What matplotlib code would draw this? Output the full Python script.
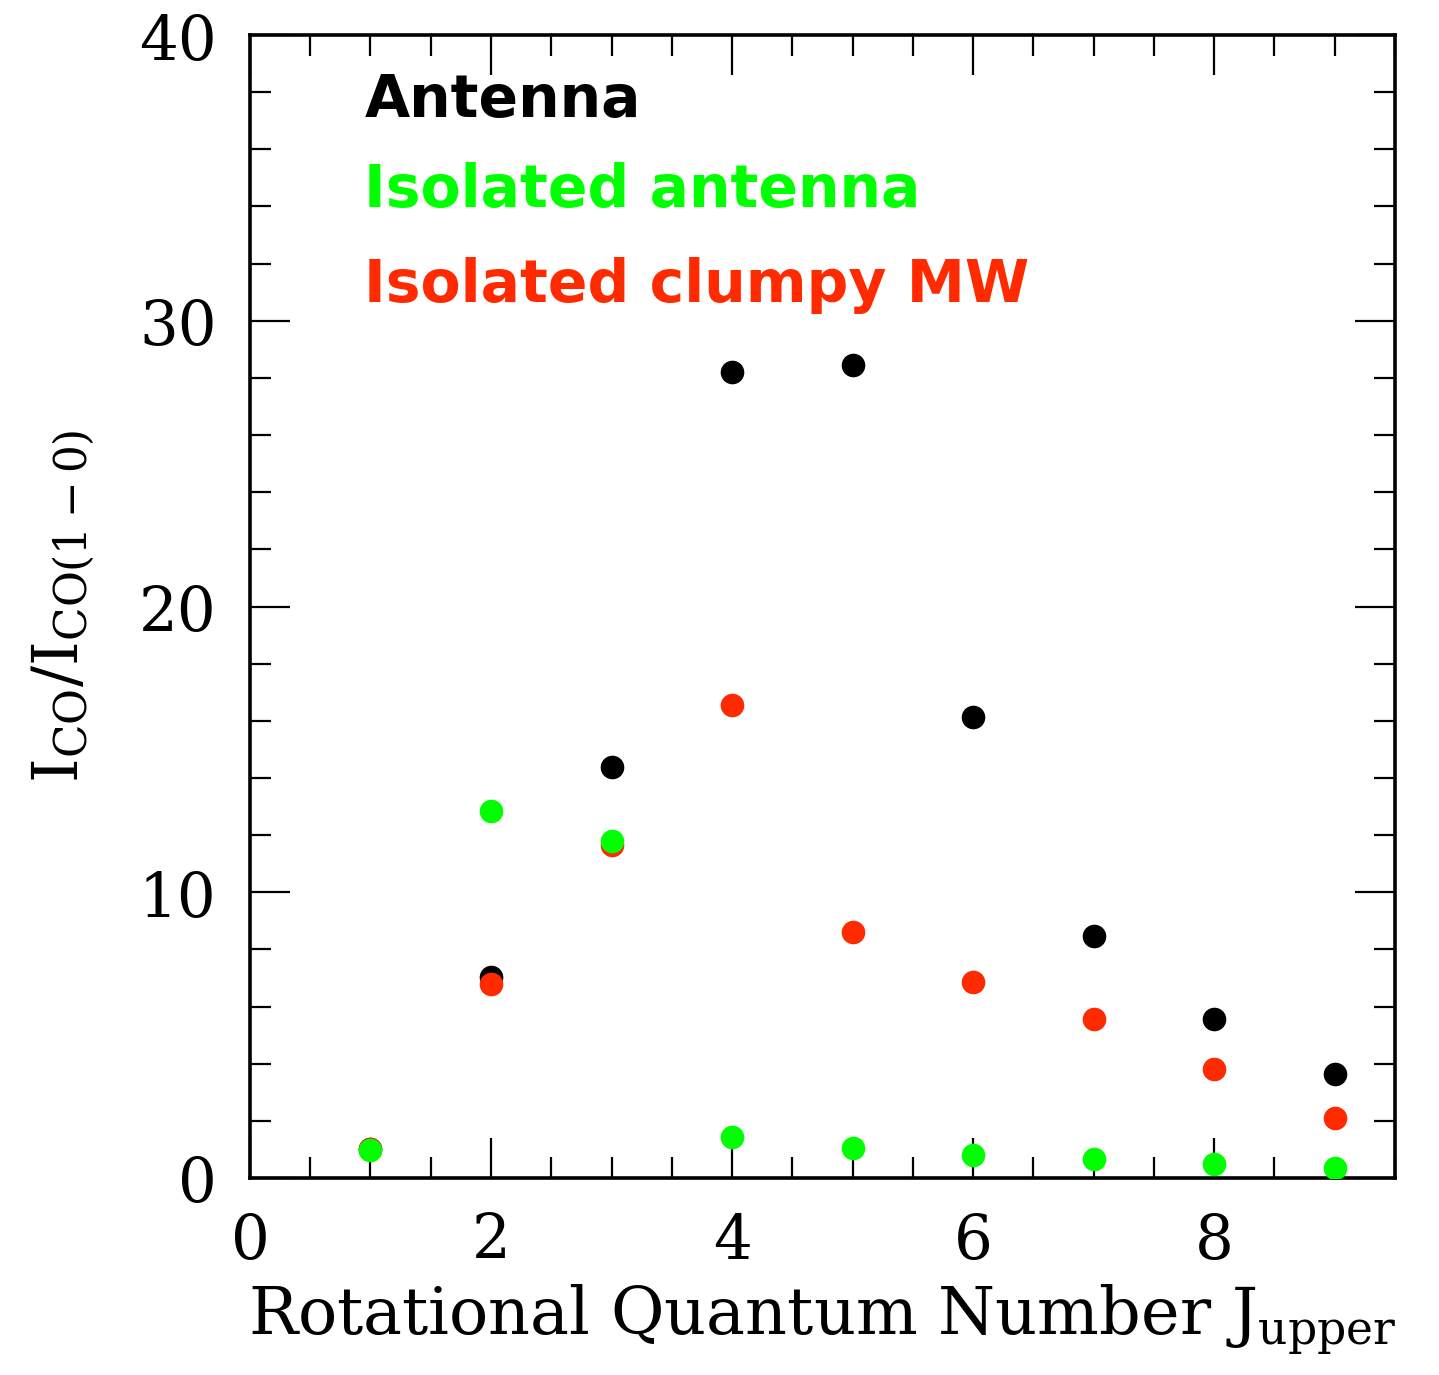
import numpy as np
import matplotlib
matplotlib.use("Agg")
import matplotlib.pyplot as plt
from matplotlib.ticker import MultipleLocator

# Rotational quantum number J_upper
j_upper = [1, 2, 3, 4, 5, 6, 7, 8, 9]

# line ratios I_CO / I_CO(1-0)
antenna = [1.0, 7.03, 14.38, 28.2, 28.45, 16.13, 8.47, 5.56, 3.64]
clumpy_mw = [1.0, 6.79, 11.65, 16.55, 8.61, 6.86, 5.56, 3.81, 2.1]
isolated_antenna = [0.98, 12.84, 11.79, 1.43, 1.05, 0.8, 0.66, 0.49, 0.35]

labels = ["Antenna", "Isolated antenna", "Isolated clumpy MW"]
colors = ["black", "#00ff00", "#ff2a00"]

plt.rcParams['font.family'] = ['DejaVu Serif']
plt.rcParams['mathtext.fontset'] = 'dejavuserif'

fig = plt.figure(figsize=(14.39, 13.75), dpi=100)
ax = fig.add_axes([0.1737, 0.1433, 0.7957, 0.8312])

# draw order: black, red, green (green ends up on top)
ax.plot(j_upper, antenna, 'o', color=colors[0], ms=17, mec='none', zorder=3)
ax.plot(j_upper, clumpy_mw, 'o', color=colors[2], ms=17, mec='none', zorder=4)
ax.plot(j_upper, isolated_antenna, 'o', color=colors[1], ms=17, mec='none', zorder=5)

ax.set_xlim(0, 9.5)
ax.set_ylim(0, 40)
ax.xaxis.set_major_locator(MultipleLocator(2))
ax.xaxis.set_minor_locator(MultipleLocator(0.5))
ax.yaxis.set_major_locator(MultipleLocator(10))
ax.yaxis.set_minor_locator(MultipleLocator(2))

ax.tick_params(which='both', direction='in', top=True, right=True, width=1.6)
ax.tick_params(which='major', length=29, labelsize=44, pad=24)
ax.tick_params(which='minor', length=15)
for sp in ax.spines.values():
    sp.set_linewidth(2.6)

ax.set_xlabel(r"Rotational Quantum Number J$_{\rm upper}$", fontsize=47, labelpad=8)
ax.set_ylabel(r"$\rm I_{CO}/I_{CO(1-0)}$", fontsize=45, labelpad=30)

# coloured legend text
ys = [0.943, 0.864, 0.781]
for lab, c, y in zip(labels, colors, ys):
    ax.text(0.1, y, lab, color=c, transform=ax.transAxes, fontsize=42,
            fontweight='bold', family=['DejaVu Sans'], va='center', ha='left')

fig.savefig("out.png", dpi=100)
